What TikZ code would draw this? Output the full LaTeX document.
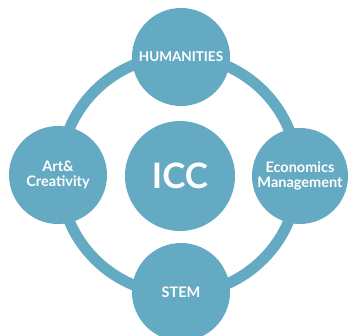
\documentclass[tikz,border=0pt]{standalone}
\usepackage{fontspec}
\setmainfont{Lato}[BoldFont={Lato Bold}]
\definecolor{teal1}{RGB}{101,170,195}
\begin{document}
\begin{tikzpicture}[x=1pt,y=-1pt,
  bubble/.style={circle,fill=teal1,minimum size=98pt,inner sep=0pt,text=white,font=\bfseries\fontsize{14.5}{15.5}\selectfont,align=center},
  ring/.style={draw=teal1,line width=11pt}]
\useasboundingbox (0,0) rectangle (348,335);
\clip (0,0) rectangle (348,335);
\coordinate (c) at (179,175);
\draw[ring] (c) circle[radius=119];
\node[circle,fill=teal1,minimum size=110pt,inner sep=0pt,text=white,font=\bfseries\fontsize{35}{36}\selectfont] (icc) at (180,176) {ICC};
\node[bubble,font=\bfseries\fontsize{13.5}{14.5}\selectfont] (hum) at (181,57) {HUMANITIES};
\node[bubble] (art) at (58,175) {Art\&\\Creativity};
\node[bubble,minimum size=96pt] (eco) at (300,176) {Economics\\Management};
\node[bubble] (stem) at (181,292) {STEM};
\end{tikzpicture}
\end{document}
